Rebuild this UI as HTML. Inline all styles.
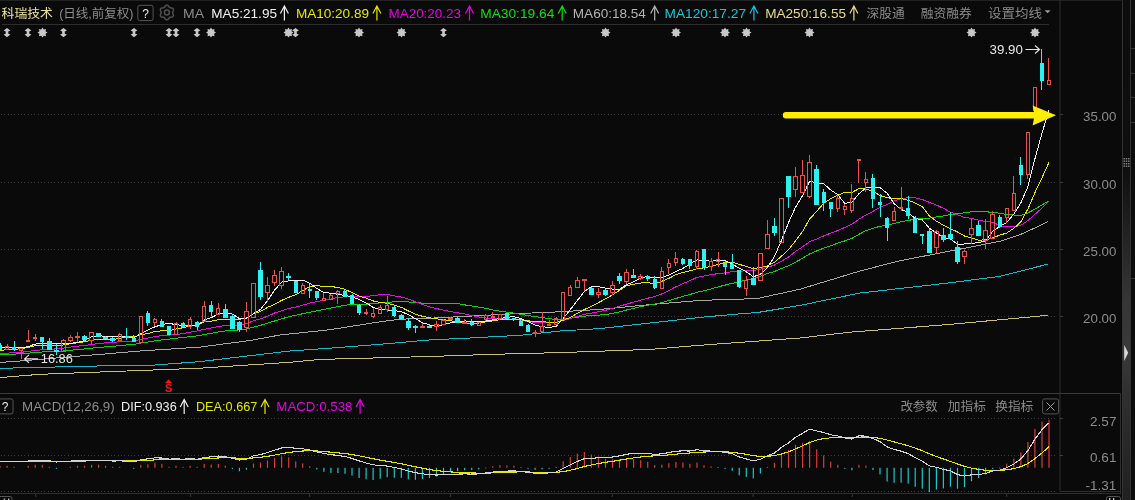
<!DOCTYPE html><html><head><meta charset="utf-8"><style>html,body{margin:0;padding:0;background:#0a0a0a;}body{width:1135px;height:500px;overflow:hidden;position:relative;}</style></head><body><svg width="1135" height="500" viewBox="0 0 1135 500" style="position:absolute;left:0;top:0" font-family="'Liberation Sans','Noto Sans CJK SC',sans-serif">
<rect width="1135" height="500" fill="#0a0a0a"/>
<rect x="0" y="0" width="1121" height="1" fill="#222"/>
<rect x="2" y="24" width="1047" height="1" fill="#2e2e2e"/>
<defs><pattern id="dots" x="0" y="0" width="10" height="1" patternUnits="userSpaceOnUse"><rect x="1" y="0" width="1" height="1" fill="#3c3c3c"/><rect x="4" y="0" width="1" height="1" fill="#3c3c3c"/><rect x="8" y="0" width="1" height="1" fill="#3c3c3c"/></pattern></defs>
<rect x="0" y="114" width="1057" height="1" fill="url(#dots)"/>
<rect x="1059.5" y="114" width="3.6" height="1" fill="#3a3a3a"/>
<rect x="0" y="182" width="1057" height="1" fill="url(#dots)"/>
<rect x="1059.5" y="182" width="3.6" height="1" fill="#3a3a3a"/>
<rect x="0" y="249" width="1057" height="1" fill="url(#dots)"/>
<rect x="1059.5" y="249" width="3.6" height="1" fill="#3a3a3a"/>
<rect x="0" y="316" width="1057" height="1" fill="url(#dots)"/>
<rect x="1059.5" y="316" width="3.6" height="1" fill="#3a3a3a"/>
<rect x="1059.3" y="0" width="1.3" height="491" fill="#262626"/>
<text x="1116.4" y="121.4" fill="#8c8c8c" font-size="13.5" text-anchor="end" textLength="33.3" lengthAdjust="spacingAndGlyphs" >35.00</text>
<text x="1116.4" y="189.4" fill="#8c8c8c" font-size="13.5" text-anchor="end" textLength="33.3" lengthAdjust="spacingAndGlyphs" >30.00</text>
<text x="1116.4" y="256.3" fill="#8c8c8c" font-size="13.5" text-anchor="end" textLength="33.3" lengthAdjust="spacingAndGlyphs" >25.00</text>
<text x="1116.4" y="323.3" fill="#8c8c8c" font-size="13.5" text-anchor="end" textLength="33.3" lengthAdjust="spacingAndGlyphs" >20.00</text>
<polyline points="0.0,377.6 40.0,374.3 140.0,370.5 200.0,368.2 250.0,364.9 290.0,362.3 320.0,359.4 430.0,356.5 490.0,354.4 560.0,352.6 650.0,349.4 705.0,344.9 800.0,338.0 850.0,332.2 950.0,324.4 1048.0,315.3" fill="none" stroke="#c8c07a" stroke-width="1.0" shape-rendering="crispEdges" />
<polyline points="0.0,368.3 110.0,365.7 150.0,365.4 200.0,361.6 250.0,355.7 290.0,351.0 330.0,348.2 380.0,344.3 430.0,339.9 470.0,338.0 520.0,335.3 560.0,331.0 600.0,328.6 650.0,323.0 700.0,317.4 740.0,313.8 757.0,312.6 800.0,305.4 860.0,293.0 900.0,288.5 950.0,282.8 1000.0,276.3 1048.0,264.1" fill="none" stroke="#19b8cc" stroke-width="1.0" shape-rendering="crispEdges" />
<polyline points="0.0,362.4 20.0,361.0 75.0,356.4 100.0,354.4 140.0,351.0 200.0,347.1 250.0,340.5 280.0,335.0 330.0,329.7 380.0,321.8 400.0,319.2 430.0,318.2 470.0,316.1 520.0,313.5 560.0,311.8 600.0,309.4 650.0,304.6 700.0,300.4 757.0,298.6 800.0,289.2 860.0,271.0 900.0,260.7 950.0,251.1 1000.0,241.2 1020.0,234.7 1040.0,225.6 1048.0,221.7" fill="none" stroke="#a8a8a8" stroke-width="1.0" shape-rendering="crispEdges" />
<polyline points="0.0,354.7 7.1,354.3 14.1,354.1 21.2,353.8 28.2,353.2 35.2,352.6 42.3,352.0 49.3,351.8 56.4,351.5 63.4,351.0 70.4,350.3 77.5,349.6 84.5,349.0 91.5,348.2 98.6,347.5 105.6,346.9 112.7,346.3 119.7,345.6 126.8,344.9 133.8,344.4 140.8,343.0 147.9,342.0 154.9,340.8 161.9,339.9 169.0,339.2 176.0,338.2 183.1,337.5 190.1,336.6 197.2,335.9 204.2,334.5 211.2,333.3 218.3,332.0 225.3,330.9 232.3,330.3 239.4,329.9 246.4,329.0 253.5,327.1 260.5,325.3 267.5,323.2 274.6,321.0 281.6,318.8 288.7,316.8 295.7,315.3 302.8,313.7 309.8,312.2 316.8,310.8 323.9,309.4 330.9,308.1 337.9,306.6 345.0,305.1 352.0,304.7 359.1,304.4 366.1,304.1 373.1,303.7 380.2,302.8 387.2,302.2 394.3,301.9 401.3,301.8 408.3,301.9 415.4,302.6 422.4,303.1 429.5,303.7 436.5,303.9 443.5,303.6 450.6,303.3 457.6,303.6 464.7,304.9 471.7,305.9 478.8,307.1 485.8,308.4 492.8,309.9 499.9,311.2 506.9,312.1 513.9,313.2 521.0,314.3 528.0,315.5 535.1,316.6 542.1,317.6 549.1,318.7 556.2,319.5 563.2,319.1 570.3,318.3 577.3,317.2 584.4,316.1 591.4,315.7 598.4,315.2 605.5,314.5 612.5,313.4 619.5,311.9 626.6,310.0 633.6,308.4 640.7,306.7 647.7,305.2 654.8,304.1 661.8,302.5 668.8,300.6 675.9,298.5 682.9,296.4 689.9,294.5 697.0,292.3 704.0,290.7 711.1,288.9 718.1,286.9 725.1,285.1 732.2,283.3 739.2,281.8 746.3,280.0 753.3,278.6 760.4,276.3 767.4,273.5 774.4,271.5 781.5,268.5 788.5,265.7 795.5,262.2 802.6,258.2 809.6,253.9 816.7,250.9 823.7,248.1 830.8,245.7 837.8,243.2 844.8,240.9 851.9,238.3 858.9,234.3 865.9,230.7 873.0,228.3 880.0,226.3 887.1,225.2 894.1,223.5 901.1,221.6 908.2,220.4 915.2,219.2 922.3,218.4 929.3,218.1 936.4,217.0 943.4,216.0 950.4,214.4 957.5,213.8 964.5,212.7 971.5,211.8 978.6,211.9 985.6,211.8 992.7,212.3 999.7,213.3 1006.8,214.4 1013.8,215.0 1020.8,215.3 1027.9,212.9 1034.9,209.1 1042.0,204.9 1049.0,200.9" fill="none" stroke="#10d010" stroke-width="1.0" shape-rendering="crispEdges" />
<polyline points="0.0,353.6 7.1,353.1 14.1,352.7 21.2,352.3 28.2,351.4 35.2,350.5 42.3,349.7 49.3,349.3 56.4,348.9 63.4,348.1 70.4,347.1 77.5,346.2 84.5,345.5 91.5,344.4 98.6,343.6 105.6,342.8 112.7,342.4 119.7,341.8 126.8,341.3 133.8,340.9 140.8,339.3 147.9,338.1 154.9,336.6 161.9,335.5 169.0,335.1 176.0,334.4 183.1,333.7 190.1,332.2 197.2,331.0 204.2,329.3 211.2,328.0 218.3,326.6 225.3,325.5 232.3,325.3 239.4,325.0 246.4,323.6 253.5,320.8 260.5,318.9 267.5,316.3 274.6,313.0 281.6,310.8 288.7,308.5 295.7,307.2 302.8,305.2 309.8,303.0 316.8,301.7 323.9,300.3 330.9,299.1 337.9,297.4 345.0,296.8 352.0,296.5 359.1,296.7 366.1,296.4 373.1,295.7 380.2,294.6 387.2,294.3 394.3,295.9 401.3,297.0 408.3,299.1 415.4,301.7 422.4,304.4 429.5,306.9 436.5,308.5 443.5,310.2 450.6,311.6 457.6,312.8 464.7,314.0 471.7,315.5 478.8,317.0 485.8,318.0 492.8,318.6 499.9,318.7 506.9,319.1 513.9,319.4 521.0,320.2 528.0,321.5 535.1,322.4 542.1,322.8 549.1,322.6 556.2,322.2 563.2,320.5 570.3,318.5 577.3,316.4 584.4,314.3 591.4,313.1 598.4,311.7 605.5,310.3 612.5,308.4 619.5,306.2 626.6,304.1 633.6,302.1 640.7,300.2 647.7,298.2 654.8,296.6 661.8,293.9 668.8,290.5 675.9,286.8 682.9,283.6 689.9,280.7 697.0,277.3 704.0,276.0 711.1,274.7 718.1,273.6 725.1,272.9 732.2,271.6 739.2,271.4 746.3,270.6 753.3,270.6 760.4,269.2 767.4,267.3 774.4,265.1 781.5,261.2 788.5,257.1 795.5,251.5 802.6,246.7 809.6,241.7 816.7,239.0 823.7,235.9 830.8,233.1 837.8,230.5 844.8,227.4 851.9,224.2 858.9,219.2 865.9,214.9 873.0,211.4 880.0,207.3 887.1,204.6 894.1,201.0 901.1,198.7 908.2,197.7 915.2,197.7 922.3,199.5 929.3,202.3 936.4,205.1 943.4,208.3 950.4,212.1 957.5,214.9 964.5,217.4 971.5,218.4 978.6,220.2 985.6,221.4 992.7,222.2 999.7,225.6 1006.8,227.0 1013.8,226.8 1020.8,225.3 1027.9,220.5 1034.9,214.3 1042.0,208.0 1049.0,201.2" fill="none" stroke="#e010e0" stroke-width="1.0" shape-rendering="crispEdges" />
<polyline points="0.0,350.5 7.1,349.7 14.1,349.3 21.2,348.8 28.2,347.4 35.2,345.8 42.3,345.1 49.3,345.3 56.4,345.7 63.4,345.0 70.4,343.8 77.5,342.7 84.5,341.8 91.5,340.1 98.6,339.7 105.6,339.8 112.7,339.7 119.7,338.3 126.8,336.9 133.8,336.9 140.8,334.8 147.9,333.5 154.9,331.5 161.9,330.8 169.0,330.6 176.0,329.1 183.1,327.7 190.1,326.2 197.2,325.2 204.2,321.7 211.2,321.2 218.3,319.8 225.3,319.6 232.3,319.9 239.4,319.3 246.4,318.1 253.5,313.9 260.5,311.5 267.5,307.4 274.6,304.3 281.6,300.4 288.7,297.3 295.7,294.8 302.8,290.5 309.8,286.7 316.8,285.2 323.9,286.8 330.9,286.7 337.9,287.3 345.0,289.4 352.0,292.6 359.1,296.1 366.1,298.1 373.1,300.9 380.2,302.5 387.2,303.3 394.3,305.1 401.3,307.3 408.3,310.9 415.4,314.1 422.4,316.3 429.5,317.8 436.5,318.9 443.5,319.6 450.6,320.7 457.6,322.3 464.7,322.9 471.7,323.6 478.8,323.1 485.8,321.9 492.8,320.9 499.9,319.7 506.9,319.2 513.9,319.1 521.0,319.8 528.0,320.8 535.1,321.8 542.1,321.9 549.1,322.1 556.2,322.4 563.2,320.1 570.3,317.4 577.3,313.5 584.4,309.5 591.4,306.5 598.4,302.6 605.5,298.9 612.5,294.8 619.5,290.4 626.6,285.8 633.6,284.2 640.7,283.0 647.7,282.8 654.8,283.6 661.8,281.3 668.8,278.4 675.9,274.7 682.9,272.5 689.9,270.9 697.0,268.8 704.0,267.8 711.1,266.4 718.1,264.5 725.1,262.3 732.2,262.0 739.2,264.3 746.3,266.5 753.3,268.6 760.4,267.5 767.4,265.8 774.4,262.4 781.5,256.1 788.5,249.8 795.5,240.8 802.6,231.5 809.6,219.0 816.7,211.4 823.7,203.2 830.8,198.7 837.8,195.1 844.8,192.4 851.9,192.4 858.9,188.7 865.9,189.0 873.0,191.3 880.0,195.5 887.1,197.8 894.1,198.7 901.1,198.6 908.2,200.3 915.2,203.0 922.3,206.6 929.3,215.9 936.4,221.1 943.4,225.2 950.4,228.6 957.5,232.0 964.5,236.0 971.5,238.1 978.6,240.1 985.6,239.9 992.7,237.8 999.7,235.2 1006.8,233.0 1013.8,228.4 1020.8,221.9 1027.9,209.0 1034.9,192.7 1042.0,177.8 1049.0,162.3" fill="none" stroke="#e6e600" stroke-width="1.0" shape-rendering="crispEdges" />
<polyline points="0.0,347.4 7.1,347.2 14.1,347.6 21.2,347.9 28.2,346.5 35.2,344.1 42.3,343.1 49.3,343.0 56.4,343.4 63.4,343.4 70.4,343.4 77.5,342.4 84.5,340.5 91.5,336.8 98.6,335.9 105.6,336.1 112.7,337.0 119.7,336.1 126.8,336.9 133.8,337.9 140.8,333.5 147.9,329.9 154.9,326.8 161.9,324.7 169.0,323.3 176.0,324.7 183.1,325.5 190.1,325.5 197.2,325.7 204.2,320.1 211.2,317.7 218.3,314.0 225.3,313.7 232.3,314.0 239.4,318.6 246.4,318.6 253.5,313.7 260.5,309.4 267.5,300.8 274.6,290.1 281.6,282.1 288.7,280.9 295.7,280.2 302.8,280.2 309.8,283.2 316.8,288.4 323.9,292.6 330.9,293.2 337.9,294.4 345.0,295.5 352.0,296.8 359.1,299.5 366.1,302.9 373.1,307.3 380.2,309.6 387.2,309.9 394.3,310.6 401.3,311.7 408.3,314.5 415.4,318.6 422.4,322.7 429.5,324.9 436.5,326.2 443.5,324.7 450.6,322.8 457.6,322.0 464.7,321.0 471.7,321.1 478.8,321.6 485.8,321.1 492.8,319.9 499.9,318.5 506.9,317.3 513.9,316.7 521.0,318.6 528.0,321.6 535.1,325.1 542.1,326.6 549.1,327.5 556.2,326.2 563.2,318.5 570.3,309.6 577.3,300.5 584.4,291.6 591.4,286.7 598.4,286.6 605.5,288.1 612.5,289.1 619.5,289.2 626.6,284.8 633.6,281.7 640.7,278.0 647.7,276.5 654.8,278.0 661.8,277.8 668.8,275.0 675.9,271.5 682.9,268.5 689.9,263.9 697.0,259.8 704.0,260.6 711.1,261.2 718.1,260.5 725.1,260.7 732.2,264.2 739.2,268.0 746.3,271.8 753.3,276.8 760.4,274.3 767.4,267.5 774.4,256.7 781.5,240.3 788.5,222.7 795.5,207.3 802.6,195.5 809.6,181.4 816.7,182.6 823.7,183.7 830.8,190.1 837.8,194.7 844.8,203.4 851.9,202.2 858.9,193.7 865.9,187.9 873.0,187.9 880.0,187.5 887.1,193.3 894.1,203.7 901.1,209.3 908.2,212.7 915.2,218.4 922.3,219.9 929.3,228.1 936.4,232.9 943.4,237.7 950.4,238.9 957.5,244.2 964.5,244.0 971.5,243.4 978.6,242.6 985.6,240.9 992.7,231.4 999.7,226.4 1006.8,222.5 1013.8,214.1 1020.8,202.9 1027.9,186.6 1034.9,158.9 1042.0,133.1 1049.0,110.5" fill="none" stroke="#f0f0f0" stroke-width="1.0" shape-rendering="crispEdges" />
<rect x="0" y="343" width="1" height="7" fill="#2ef0f0"/>
<rect x="-2" y="345" width="4" height="5" fill="#2ef0f0"/>
<rect x="7" y="344" width="1" height="2" fill="#e8524a"/>
<rect x="5.5" y="346.5" width="3" height="3" fill="none" stroke="#e8524a" stroke-width="1"/>
<rect x="14" y="341" width="1" height="10" fill="#2ef0f0"/>
<rect x="12" y="347" width="4" height="3" fill="#2ef0f0"/>
<rect x="21" y="351" width="1" height="8" fill="#e8524a"/>
<rect x="19.5" y="348.5" width="3" height="2" fill="none" stroke="#e8524a" stroke-width="1"/>
<rect x="28" y="330" width="1" height="10" fill="#e8524a"/>
<rect x="26.5" y="340.5" width="3" height="1" fill="none" stroke="#e8524a" stroke-width="1"/>
<rect x="35" y="334" width="1" height="3" fill="#e8524a"/>
<rect x="35" y="339" width="1" height="2" fill="#e8524a"/>
<rect x="33.5" y="337.5" width="3" height="1" fill="none" stroke="#e8524a" stroke-width="1"/>
<rect x="42" y="337" width="1" height="12" fill="#2ef0f0"/>
<rect x="40" y="337" width="4" height="5" fill="#2ef0f0"/>
<rect x="49" y="338" width="1" height="11" fill="#2ef0f0"/>
<rect x="47" y="341" width="5" height="9" fill="#2ef0f0"/>
<rect x="56" y="344" width="1" height="11" fill="#2ef0f0"/>
<rect x="54" y="350" width="5" height="2" fill="#2ef0f0"/>
<rect x="63" y="339" width="1" height="1" fill="#e8524a"/>
<rect x="61.5" y="340.5" width="4" height="11" fill="none" stroke="#e8524a" stroke-width="1"/>
<rect x="70" y="335" width="1" height="2" fill="#e8524a"/>
<rect x="70" y="341" width="1" height="1" fill="#e8524a"/>
<rect x="68.5" y="337.5" width="4" height="3" fill="none" stroke="#e8524a" stroke-width="1"/>
<rect x="77" y="332" width="1" height="4" fill="#e8524a"/>
<rect x="77" y="338" width="1" height="4" fill="#e8524a"/>
<rect x="75.5" y="336.5" width="4" height="1" fill="none" stroke="#e8524a" stroke-width="1"/>
<rect x="84" y="335" width="1" height="6" fill="#2ef0f0"/>
<rect x="82" y="336" width="5" height="4" fill="#2ef0f0"/>
<rect x="91" y="341" width="1" height="3" fill="#e8524a"/>
<rect x="89.5" y="332.5" width="4" height="8" fill="none" stroke="#e8524a" stroke-width="1"/>
<rect x="98" y="333" width="1" height="3" fill="#2ef0f0"/>
<rect x="96" y="333" width="5" height="4" fill="#2ef0f0"/>
<rect x="105" y="336" width="1" height="3" fill="#2ef0f0"/>
<rect x="103" y="337" width="5" height="2" fill="#2ef0f0"/>
<rect x="112" y="337" width="1" height="5" fill="#2ef0f0"/>
<rect x="110" y="338" width="5" height="3" fill="#2ef0f0"/>
<rect x="119" y="333" width="1" height="1" fill="#e8524a"/>
<rect x="118.5" y="334.5" width="3" height="6" fill="none" stroke="#e8524a" stroke-width="1"/>
<rect x="126" y="328" width="1" height="12" fill="#2ef0f0"/>
<rect x="125" y="336" width="4" height="2" fill="#2ef0f0"/>
<rect x="133" y="335" width="1" height="6" fill="#2ef0f0"/>
<rect x="132" y="338" width="4" height="4" fill="#2ef0f0"/>
<rect x="139.5" y="316.5" width="3" height="26" fill="none" stroke="#e8524a" stroke-width="1"/>
<rect x="147" y="311" width="1" height="15" fill="#2ef0f0"/>
<rect x="146" y="313" width="4" height="10" fill="#2ef0f0"/>
<rect x="154" y="318" width="1" height="1" fill="#e8524a"/>
<rect x="154" y="323" width="1" height="3" fill="#e8524a"/>
<rect x="153.5" y="319.5" width="3" height="3" fill="none" stroke="#e8524a" stroke-width="1"/>
<rect x="161" y="319" width="1" height="7" fill="#2ef0f0"/>
<rect x="160" y="321" width="4" height="6" fill="#2ef0f0"/>
<rect x="168" y="326" width="1" height="8" fill="#2ef0f0"/>
<rect x="167" y="326" width="4" height="9" fill="#2ef0f0"/>
<rect x="176" y="322" width="1" height="1" fill="#e8524a"/>
<rect x="174.5" y="323.5" width="3" height="11" fill="none" stroke="#e8524a" stroke-width="1"/>
<rect x="183" y="322" width="1" height="4" fill="#2ef0f0"/>
<rect x="181" y="323" width="4" height="4" fill="#2ef0f0"/>
<rect x="190" y="317" width="1" height="2" fill="#e8524a"/>
<rect x="190" y="327" width="1" height="2" fill="#e8524a"/>
<rect x="188.5" y="319.5" width="3" height="7" fill="none" stroke="#e8524a" stroke-width="1"/>
<rect x="197" y="321" width="1" height="9" fill="#2ef0f0"/>
<rect x="195" y="322" width="4" height="5" fill="#2ef0f0"/>
<rect x="204" y="301" width="1" height="5" fill="#e8524a"/>
<rect x="202.5" y="306.5" width="3" height="15" fill="none" stroke="#e8524a" stroke-width="1"/>
<rect x="211" y="301" width="1" height="15" fill="#2ef0f0"/>
<rect x="209" y="305" width="4" height="7" fill="#2ef0f0"/>
<rect x="218" y="303" width="1" height="5" fill="#e8524a"/>
<rect x="216.5" y="308.5" width="3" height="6" fill="none" stroke="#e8524a" stroke-width="1"/>
<rect x="225" y="304" width="1" height="13" fill="#2ef0f0"/>
<rect x="223" y="309" width="5" height="9" fill="#2ef0f0"/>
<rect x="232" y="314" width="1" height="14" fill="#2ef0f0"/>
<rect x="230" y="316" width="5" height="13" fill="#2ef0f0"/>
<rect x="239" y="321" width="1" height="11" fill="#2ef0f0"/>
<rect x="237" y="322" width="5" height="8" fill="#2ef0f0"/>
<rect x="246" y="302" width="1" height="9" fill="#e8524a"/>
<rect x="246" y="328" width="1" height="4" fill="#e8524a"/>
<rect x="244.5" y="311.5" width="4" height="16" fill="none" stroke="#e8524a" stroke-width="1"/>
<rect x="251.5" y="283.5" width="4" height="34" fill="none" stroke="#e8524a" stroke-width="1"/>
<rect x="260" y="262" width="1" height="38" fill="#2ef0f0"/>
<rect x="258" y="270" width="5" height="27" fill="#2ef0f0"/>
<rect x="267" y="277" width="1" height="8" fill="#e8524a"/>
<rect x="267" y="293" width="1" height="9" fill="#e8524a"/>
<rect x="265.5" y="285.5" width="4" height="7" fill="none" stroke="#e8524a" stroke-width="1"/>
<rect x="274" y="270" width="1" height="5" fill="#e8524a"/>
<rect x="274" y="283" width="1" height="3" fill="#e8524a"/>
<rect x="272.5" y="275.5" width="4" height="7" fill="none" stroke="#e8524a" stroke-width="1"/>
<rect x="281" y="267" width="1" height="4" fill="#e8524a"/>
<rect x="281" y="286" width="1" height="3" fill="#e8524a"/>
<rect x="279.5" y="271.5" width="4" height="14" fill="none" stroke="#e8524a" stroke-width="1"/>
<rect x="288" y="273" width="1" height="7" fill="#2ef0f0"/>
<rect x="286" y="276" width="5" height="2" fill="#2ef0f0"/>
<rect x="295" y="281" width="1" height="11" fill="#2ef0f0"/>
<rect x="294" y="281" width="4" height="12" fill="#2ef0f0"/>
<rect x="302" y="283" width="1" height="2" fill="#e8524a"/>
<rect x="301.5" y="285.5" width="3" height="8" fill="none" stroke="#e8524a" stroke-width="1"/>
<rect x="309" y="284" width="1" height="14" fill="#2ef0f0"/>
<rect x="308" y="289" width="4" height="2" fill="#2ef0f0"/>
<rect x="316" y="291" width="1" height="9" fill="#2ef0f0"/>
<rect x="315" y="291" width="4" height="7" fill="#2ef0f0"/>
<rect x="323" y="293" width="1" height="5" fill="#e8524a"/>
<rect x="322.5" y="298.5" width="3" height="2" fill="none" stroke="#e8524a" stroke-width="1"/>
<rect x="330" y="294" width="1" height="1" fill="#e8524a"/>
<rect x="329.5" y="295.5" width="3" height="4" fill="none" stroke="#e8524a" stroke-width="1"/>
<rect x="337" y="290" width="1" height="1" fill="#e8524a"/>
<rect x="337" y="294" width="1" height="10" fill="#e8524a"/>
<rect x="336.5" y="291.5" width="3" height="2" fill="none" stroke="#e8524a" stroke-width="1"/>
<rect x="344" y="290" width="1" height="6" fill="#2ef0f0"/>
<rect x="343" y="291" width="4" height="6" fill="#2ef0f0"/>
<rect x="352" y="294" width="1" height="9" fill="#2ef0f0"/>
<rect x="350" y="295" width="4" height="9" fill="#2ef0f0"/>
<rect x="359" y="304" width="1" height="11" fill="#2ef0f0"/>
<rect x="357" y="305" width="4" height="8" fill="#2ef0f0"/>
<rect x="366" y="309" width="1" height="3" fill="#e8524a"/>
<rect x="366" y="314" width="1" height="1" fill="#e8524a"/>
<rect x="364.5" y="312.5" width="3" height="1" fill="none" stroke="#e8524a" stroke-width="1"/>
<rect x="373" y="308" width="1" height="5" fill="#e8524a"/>
<rect x="373" y="317" width="1" height="1" fill="#e8524a"/>
<rect x="371.5" y="313.5" width="3" height="3" fill="none" stroke="#e8524a" stroke-width="1"/>
<rect x="380" y="305" width="1" height="2" fill="#e8524a"/>
<rect x="378.5" y="307.5" width="3" height="6" fill="none" stroke="#e8524a" stroke-width="1"/>
<rect x="387" y="296" width="1" height="9" fill="#e8524a"/>
<rect x="387" y="310" width="1" height="2" fill="#e8524a"/>
<rect x="385.5" y="305.5" width="3" height="4" fill="none" stroke="#e8524a" stroke-width="1"/>
<rect x="394" y="306" width="1" height="11" fill="#2ef0f0"/>
<rect x="392" y="307" width="4" height="9" fill="#2ef0f0"/>
<rect x="401" y="314" width="1" height="4" fill="#2ef0f0"/>
<rect x="399" y="315" width="5" height="4" fill="#2ef0f0"/>
<rect x="408" y="318" width="1" height="12" fill="#2ef0f0"/>
<rect x="406" y="321" width="5" height="7" fill="#2ef0f0"/>
<rect x="415" y="325" width="1" height="8" fill="#2ef0f0"/>
<rect x="413" y="326" width="5" height="2" fill="#2ef0f0"/>
<rect x="422" y="323" width="1" height="3" fill="#e8524a"/>
<rect x="420.5" y="326.5" width="4" height="1" fill="none" stroke="#e8524a" stroke-width="1"/>
<rect x="429" y="324" width="1" height="3" fill="#2ef0f0"/>
<rect x="427" y="326" width="5" height="2" fill="#2ef0f0"/>
<rect x="436" y="321" width="1" height="3" fill="#e8524a"/>
<rect x="436" y="327" width="1" height="4" fill="#e8524a"/>
<rect x="434.5" y="324.5" width="4" height="2" fill="none" stroke="#e8524a" stroke-width="1"/>
<rect x="443" y="319" width="1" height="1" fill="#e8524a"/>
<rect x="441.5" y="320.5" width="4" height="4" fill="none" stroke="#e8524a" stroke-width="1"/>
<rect x="450" y="317" width="1" height="1" fill="#e8524a"/>
<rect x="448.5" y="318.5" width="4" height="1" fill="none" stroke="#e8524a" stroke-width="1"/>
<rect x="457" y="317" width="1" height="5" fill="#2ef0f0"/>
<rect x="455" y="318" width="5" height="5" fill="#2ef0f0"/>
<rect x="464" y="319" width="1" height="3" fill="#e8524a"/>
<rect x="462.5" y="322.5" width="4" height="1" fill="none" stroke="#e8524a" stroke-width="1"/>
<rect x="471" y="319" width="1" height="7" fill="#2ef0f0"/>
<rect x="470" y="322" width="4" height="3" fill="#2ef0f0"/>
<rect x="477.5" y="322.5" width="3" height="3" fill="none" stroke="#e8524a" stroke-width="1"/>
<rect x="485" y="314" width="1" height="1" fill="#e8524a"/>
<rect x="485" y="320" width="1" height="1" fill="#e8524a"/>
<rect x="484.5" y="315.5" width="3" height="4" fill="none" stroke="#e8524a" stroke-width="1"/>
<rect x="492" y="312" width="1" height="4" fill="#e8524a"/>
<rect x="491.5" y="316.5" width="3" height="1" fill="none" stroke="#e8524a" stroke-width="1"/>
<rect x="499" y="319" width="1" height="1" fill="#e8524a"/>
<rect x="498.5" y="314.5" width="3" height="4" fill="none" stroke="#e8524a" stroke-width="1"/>
<rect x="506" y="313" width="1" height="5" fill="#2ef0f0"/>
<rect x="505" y="313" width="4" height="6" fill="#2ef0f0"/>
<rect x="513" y="318" width="1" height="3" fill="#2ef0f0"/>
<rect x="512" y="318" width="4" height="2" fill="#2ef0f0"/>
<rect x="520" y="320" width="1" height="5" fill="#2ef0f0"/>
<rect x="519" y="321" width="4" height="5" fill="#2ef0f0"/>
<rect x="528" y="324" width="1" height="8" fill="#2ef0f0"/>
<rect x="526" y="325" width="4" height="7" fill="#2ef0f0"/>
<rect x="535" y="330" width="1" height="2" fill="#e8524a"/>
<rect x="535" y="333" width="1" height="4" fill="#e8524a"/>
<rect x="533.5" y="332.5" width="3" height="1" fill="none" stroke="#e8524a" stroke-width="1"/>
<rect x="542" y="312" width="1" height="14" fill="#e8524a"/>
<rect x="540.5" y="326.5" width="3" height="5" fill="none" stroke="#e8524a" stroke-width="1"/>
<rect x="549" y="320" width="1" height="4" fill="#e8524a"/>
<rect x="547.5" y="324.5" width="3" height="1" fill="none" stroke="#e8524a" stroke-width="1"/>
<rect x="556" y="317" width="1" height="1" fill="#e8524a"/>
<rect x="554.5" y="318.5" width="3" height="6" fill="none" stroke="#e8524a" stroke-width="1"/>
<rect x="561.5" y="292.5" width="3" height="27" fill="none" stroke="#e8524a" stroke-width="1"/>
<rect x="570" y="285" width="1" height="2" fill="#e8524a"/>
<rect x="568.5" y="287.5" width="3" height="8" fill="none" stroke="#e8524a" stroke-width="1"/>
<rect x="577" y="277" width="1" height="3" fill="#e8524a"/>
<rect x="575.5" y="280.5" width="4" height="7" fill="none" stroke="#e8524a" stroke-width="1"/>
<rect x="584" y="281" width="1" height="10" fill="#e8524a"/>
<rect x="582.5" y="279.5" width="4" height="1" fill="none" stroke="#e8524a" stroke-width="1"/>
<rect x="591" y="287" width="1" height="7" fill="#2ef0f0"/>
<rect x="589" y="288" width="5" height="7" fill="#2ef0f0"/>
<rect x="598" y="288" width="1" height="4" fill="#e8524a"/>
<rect x="598" y="295" width="1" height="3" fill="#e8524a"/>
<rect x="596.5" y="292.5" width="4" height="2" fill="none" stroke="#e8524a" stroke-width="1"/>
<rect x="605" y="289" width="1" height="7" fill="#2ef0f0"/>
<rect x="603" y="290" width="5" height="5" fill="#2ef0f0"/>
<rect x="612" y="281" width="1" height="4" fill="#e8524a"/>
<rect x="612" y="293" width="1" height="2" fill="#e8524a"/>
<rect x="610.5" y="285.5" width="4" height="7" fill="none" stroke="#e8524a" stroke-width="1"/>
<rect x="619" y="273" width="1" height="11" fill="#2ef0f0"/>
<rect x="617" y="276" width="5" height="5" fill="#2ef0f0"/>
<rect x="626" y="269" width="1" height="3" fill="#e8524a"/>
<rect x="626" y="282" width="1" height="2" fill="#e8524a"/>
<rect x="624.5" y="272.5" width="4" height="9" fill="none" stroke="#e8524a" stroke-width="1"/>
<rect x="633" y="269" width="1" height="8" fill="#2ef0f0"/>
<rect x="631" y="275" width="5" height="3" fill="#2ef0f0"/>
<rect x="640" y="274" width="1" height="2" fill="#e8524a"/>
<rect x="640" y="279" width="1" height="1" fill="#e8524a"/>
<rect x="638.5" y="276.5" width="4" height="2" fill="none" stroke="#e8524a" stroke-width="1"/>
<rect x="647" y="275" width="1" height="6" fill="#2ef0f0"/>
<rect x="646" y="276" width="4" height="3" fill="#2ef0f0"/>
<rect x="654" y="276" width="1" height="13" fill="#2ef0f0"/>
<rect x="653" y="279" width="4" height="9" fill="#2ef0f0"/>
<rect x="661" y="267" width="1" height="4" fill="#e8524a"/>
<rect x="660.5" y="271.5" width="3" height="17" fill="none" stroke="#e8524a" stroke-width="1"/>
<rect x="668" y="259" width="1" height="4" fill="#e8524a"/>
<rect x="668" y="268" width="1" height="6" fill="#e8524a"/>
<rect x="667.5" y="263.5" width="3" height="4" fill="none" stroke="#e8524a" stroke-width="1"/>
<rect x="675" y="252" width="1" height="6" fill="#e8524a"/>
<rect x="675" y="263" width="1" height="3" fill="#e8524a"/>
<rect x="674.5" y="258.5" width="3" height="4" fill="none" stroke="#e8524a" stroke-width="1"/>
<rect x="682" y="258" width="1" height="7" fill="#2ef0f0"/>
<rect x="681" y="259" width="4" height="5" fill="#2ef0f0"/>
<rect x="689" y="259" width="1" height="10" fill="#2ef0f0"/>
<rect x="688" y="259" width="4" height="7" fill="#2ef0f0"/>
<rect x="696" y="250" width="1" height="1" fill="#e8524a"/>
<rect x="696" y="267" width="1" height="2" fill="#e8524a"/>
<rect x="695.5" y="251.5" width="3" height="15" fill="none" stroke="#e8524a" stroke-width="1"/>
<rect x="704" y="249" width="1" height="21" fill="#2ef0f0"/>
<rect x="702" y="249" width="4" height="19" fill="#2ef0f0"/>
<rect x="711" y="258" width="1" height="3" fill="#e8524a"/>
<rect x="711" y="267" width="1" height="4" fill="#e8524a"/>
<rect x="709.5" y="261.5" width="3" height="5" fill="none" stroke="#e8524a" stroke-width="1"/>
<rect x="718" y="252" width="1" height="7" fill="#e8524a"/>
<rect x="718" y="262" width="1" height="5" fill="#e8524a"/>
<rect x="716.5" y="259.5" width="3" height="2" fill="none" stroke="#e8524a" stroke-width="1"/>
<rect x="725" y="261" width="1" height="14" fill="#2ef0f0"/>
<rect x="723" y="263" width="4" height="4" fill="#2ef0f0"/>
<rect x="732" y="254" width="1" height="14" fill="#2ef0f0"/>
<rect x="730" y="264" width="4" height="5" fill="#2ef0f0"/>
<rect x="739" y="270" width="1" height="18" fill="#2ef0f0"/>
<rect x="737" y="270" width="4" height="17" fill="#2ef0f0"/>
<rect x="746" y="276" width="1" height="4" fill="#e8524a"/>
<rect x="746" y="289" width="1" height="7" fill="#e8524a"/>
<rect x="744.5" y="280.5" width="3" height="8" fill="none" stroke="#e8524a" stroke-width="1"/>
<rect x="753" y="267" width="1" height="17" fill="#2ef0f0"/>
<rect x="751" y="278" width="5" height="7" fill="#2ef0f0"/>
<rect x="758.5" y="253.5" width="4" height="27" fill="none" stroke="#e8524a" stroke-width="1"/>
<rect x="767" y="220" width="1" height="14" fill="#e8524a"/>
<rect x="765.5" y="234.5" width="4" height="14" fill="none" stroke="#e8524a" stroke-width="1"/>
<rect x="774" y="218" width="1" height="18" fill="#2ef0f0"/>
<rect x="772" y="226" width="5" height="7" fill="#2ef0f0"/>
<rect x="779.5" y="198.5" width="4" height="44" fill="none" stroke="#e8524a" stroke-width="1"/>
<rect x="788" y="176" width="1" height="32" fill="#2ef0f0"/>
<rect x="786" y="176" width="5" height="21" fill="#2ef0f0"/>
<rect x="795" y="167" width="1" height="9" fill="#e8524a"/>
<rect x="795" y="190" width="1" height="7" fill="#e8524a"/>
<rect x="793.5" y="176.5" width="4" height="13" fill="none" stroke="#e8524a" stroke-width="1"/>
<rect x="802" y="160" width="1" height="15" fill="#e8524a"/>
<rect x="800.5" y="175.5" width="4" height="17" fill="none" stroke="#e8524a" stroke-width="1"/>
<rect x="809" y="155" width="1" height="7" fill="#e8524a"/>
<rect x="809" y="197" width="1" height="1" fill="#e8524a"/>
<rect x="807.5" y="162.5" width="4" height="34" fill="none" stroke="#e8524a" stroke-width="1"/>
<rect x="816" y="165" width="1" height="39" fill="#2ef0f0"/>
<rect x="814" y="169" width="5" height="36" fill="#2ef0f0"/>
<rect x="823" y="189" width="1" height="22" fill="#2ef0f0"/>
<rect x="822" y="192" width="4" height="11" fill="#2ef0f0"/>
<rect x="830" y="202" width="1" height="15" fill="#2ef0f0"/>
<rect x="829" y="202" width="4" height="7" fill="#2ef0f0"/>
<rect x="837" y="195" width="1" height="3" fill="#e8524a"/>
<rect x="837" y="209" width="1" height="3" fill="#e8524a"/>
<rect x="836.5" y="198.5" width="3" height="10" fill="none" stroke="#e8524a" stroke-width="1"/>
<rect x="844" y="204" width="1" height="2" fill="#e8524a"/>
<rect x="844" y="210" width="1" height="5" fill="#e8524a"/>
<rect x="843.5" y="206.5" width="3" height="3" fill="none" stroke="#e8524a" stroke-width="1"/>
<rect x="851" y="184" width="1" height="14" fill="#e8524a"/>
<rect x="851" y="211" width="1" height="2" fill="#e8524a"/>
<rect x="850.5" y="198.5" width="3" height="12" fill="none" stroke="#e8524a" stroke-width="1"/>
<rect x="858" y="161" width="1" height="22" fill="#e8524a"/>
<rect x="857.5" y="159.5" width="3" height="1" fill="none" stroke="#e8524a" stroke-width="1"/>
<rect x="865" y="172" width="1" height="7" fill="#e8524a"/>
<rect x="865" y="183" width="1" height="9" fill="#e8524a"/>
<rect x="864.5" y="179.5" width="3" height="3" fill="none" stroke="#e8524a" stroke-width="1"/>
<rect x="872" y="174" width="1" height="34" fill="#2ef0f0"/>
<rect x="871" y="178" width="4" height="21" fill="#2ef0f0"/>
<rect x="880" y="194" width="1" height="23" fill="#2ef0f0"/>
<rect x="878" y="202" width="4" height="3" fill="#2ef0f0"/>
<rect x="887" y="217" width="1" height="24" fill="#2ef0f0"/>
<rect x="885" y="218" width="4" height="10" fill="#2ef0f0"/>
<rect x="894" y="207" width="1" height="4" fill="#e8524a"/>
<rect x="892.5" y="211.5" width="3" height="9" fill="none" stroke="#e8524a" stroke-width="1"/>
<rect x="901" y="187" width="1" height="20" fill="#e8524a"/>
<rect x="901" y="209" width="1" height="2" fill="#e8524a"/>
<rect x="899.5" y="207.5" width="3" height="1" fill="none" stroke="#e8524a" stroke-width="1"/>
<rect x="908" y="196" width="1" height="23" fill="#2ef0f0"/>
<rect x="906" y="208" width="4" height="8" fill="#2ef0f0"/>
<rect x="915" y="216" width="1" height="16" fill="#2ef0f0"/>
<rect x="913" y="218" width="4" height="15" fill="#2ef0f0"/>
<rect x="922" y="234" width="1" height="10" fill="#2ef0f0"/>
<rect x="920" y="234" width="4" height="2" fill="#2ef0f0"/>
<rect x="929" y="229" width="1" height="24" fill="#2ef0f0"/>
<rect x="927" y="231" width="5" height="22" fill="#2ef0f0"/>
<rect x="936" y="230" width="1" height="1" fill="#e8524a"/>
<rect x="936" y="248" width="1" height="5" fill="#e8524a"/>
<rect x="934.5" y="231.5" width="4" height="16" fill="none" stroke="#e8524a" stroke-width="1"/>
<rect x="943" y="228" width="1" height="14" fill="#2ef0f0"/>
<rect x="941" y="235" width="5" height="5" fill="#2ef0f0"/>
<rect x="950" y="212" width="1" height="26" fill="#2ef0f0"/>
<rect x="948" y="234" width="5" height="5" fill="#2ef0f0"/>
<rect x="957" y="241" width="1" height="23" fill="#2ef0f0"/>
<rect x="955" y="247" width="5" height="15" fill="#2ef0f0"/>
<rect x="964" y="250" width="1" height="1" fill="#e8524a"/>
<rect x="964" y="257" width="1" height="7" fill="#e8524a"/>
<rect x="962.5" y="251.5" width="4" height="5" fill="none" stroke="#e8524a" stroke-width="1"/>
<rect x="971" y="219" width="1" height="9" fill="#e8524a"/>
<rect x="971" y="235" width="1" height="9" fill="#e8524a"/>
<rect x="969.5" y="228.5" width="4" height="6" fill="none" stroke="#e8524a" stroke-width="1"/>
<rect x="978" y="221" width="1" height="15" fill="#2ef0f0"/>
<rect x="976" y="225" width="5" height="11" fill="#2ef0f0"/>
<rect x="985" y="219" width="1" height="11" fill="#e8524a"/>
<rect x="985" y="241" width="1" height="8" fill="#e8524a"/>
<rect x="983.5" y="230.5" width="4" height="10" fill="none" stroke="#e8524a" stroke-width="1"/>
<rect x="992" y="211" width="1" height="3" fill="#e8524a"/>
<rect x="990.5" y="214.5" width="4" height="24" fill="none" stroke="#e8524a" stroke-width="1"/>
<rect x="999" y="215" width="1" height="13" fill="#2ef0f0"/>
<rect x="998" y="217" width="4" height="10" fill="#2ef0f0"/>
<rect x="1006" y="218" width="1" height="5" fill="#e8524a"/>
<rect x="1005.5" y="208.5" width="3" height="9" fill="none" stroke="#e8524a" stroke-width="1"/>
<rect x="1013" y="176" width="1" height="17" fill="#e8524a"/>
<rect x="1012.5" y="193.5" width="3" height="17" fill="none" stroke="#e8524a" stroke-width="1"/>
<rect x="1020" y="157" width="1" height="28" fill="#2ef0f0"/>
<rect x="1019" y="165" width="4" height="10" fill="#2ef0f0"/>
<rect x="1027" y="175" width="1" height="4" fill="#e8524a"/>
<rect x="1026.5" y="132.5" width="3" height="42" fill="none" stroke="#e8524a" stroke-width="1"/>
<rect x="1033.5" y="87.5" width="3" height="23" fill="none" stroke="#e8524a" stroke-width="1"/>
<rect x="1041" y="49" width="1" height="41" fill="#2ef0f0"/>
<rect x="1040" y="63" width="4" height="18" fill="#2ef0f0"/>
<rect x="1048" y="58" width="1" height="22" fill="#e8524a"/>
<rect x="1047.5" y="80.5" width="3" height="4" fill="none" stroke="#e8524a" stroke-width="1"/>
<path d="M786,112 L1034,112 L1032.6,105.4 L1056,115.2 L1032.6,125.4 L1034,118.4 L786,118.4 A3.2,3.2 0 0 1 786,112 Z" fill="#ffee00"/>
<text x="989.6" y="53.7" fill="#e6e6e6" font-size="13.5" text-anchor="start" textLength="33.3" lengthAdjust="spacingAndGlyphs" >39.90</text>
<path d="M1025.5,49.5 H1039.5 M1035,45.5 L1039.5,49.5 L1035,53.5" stroke="#e6e6e6" stroke-width="1.1" fill="none"/>
<text x="40.8" y="363.0" fill="#e6e6e6" font-size="13.5" text-anchor="start" textLength="32.0" lengthAdjust="spacingAndGlyphs" >16.86</text>
<path d="M24.5,358.9 H38 M29,354.9 L24.5,358.9 L29,362.9" stroke="#e6e6e6" stroke-width="1.1" fill="none"/>
<path d="M165,383 L168.6,379.3 L172.2,383 Z" fill="#ff1010"/>
<text x="168.6" y="392.2" fill="#ff1010" font-size="11" text-anchor="middle" font-weight="bold">S</text>
<text x="1.6" y="18.0" fill="#ece4a0" font-size="12.2" text-anchor="start" textLength="51.3" lengthAdjust="spacingAndGlyphs" >科瑞技术</text>
<text x="59.2" y="18.0" fill="#8c8c8c" font-size="12.2" text-anchor="start" textLength="74.3" lengthAdjust="spacingAndGlyphs" >(日线,前复权)</text>
<rect x="137.8" y="5.3" width="15.3" height="15.3" rx="2" fill="none" stroke="#555" stroke-width="1"/>
<text x="145.5" y="17.6" fill="#e8e8e8" font-size="12" text-anchor="middle" >?</text>
<path d="M172.60,12.50 L172.69,13.01 L172.91,13.56 L173.18,14.18 L173.38,14.86 L173.42,15.54 L173.22,16.15 L172.79,16.63 L172.19,16.94 L171.50,17.10 L170.82,17.17 L170.23,17.26 L169.75,17.44 L169.35,17.76 L168.99,18.23 L168.58,18.78 L168.10,19.30 L167.53,19.67 L166.90,19.80 L166.27,19.67 L165.70,19.30 L165.22,18.78 L164.81,18.23 L164.45,17.76 L164.05,17.44 L163.57,17.26 L162.98,17.17 L162.30,17.10 L161.61,16.94 L161.01,16.63 L160.58,16.15 L160.38,15.54 L160.42,14.86 L160.62,14.18 L160.89,13.56 L161.11,13.01 L161.20,12.50 L161.11,11.99 L160.89,11.44 L160.62,10.82 L160.42,10.14 L160.38,9.46 L160.58,8.85 L161.01,8.37 L161.61,8.06 L162.30,7.90 L162.98,7.83 L163.57,7.74 L164.05,7.56 L164.45,7.24 L164.81,6.77 L165.22,6.22 L165.70,5.70 L166.27,5.33 L166.90,5.20 L167.53,5.33 L168.10,5.70 L168.58,6.22 L168.99,6.77 L169.35,7.24 L169.75,7.56 L170.23,7.74 L170.82,7.83 L171.50,7.90 L172.19,8.06 L172.79,8.37 L173.22,8.85 L173.42,9.46 L173.38,10.14 L173.18,10.82 L172.91,11.44 L172.69,11.99 Z" fill="none" stroke="#505050" stroke-width="1.5" stroke-linejoin="round"/><circle cx="166.9" cy="12.5" r="2.5" fill="none" stroke="#505050" stroke-width="1.5"/>
<text x="183.0" y="17.9" fill="#8c8c8c" font-size="13.5" text-anchor="start" textLength="21.0" lengthAdjust="spacingAndGlyphs" >MA</text>
<text x="211.3" y="17.9" fill="#f0f0f0" font-size="13.5" text-anchor="start" textLength="65.7" lengthAdjust="spacingAndGlyphs" >MA5:21.95</text>
<path d="M284.4,20.5 V6.5 M280.4,13.5 L284.4,6.0 L288.4,13.5" stroke="#f0f0f0" stroke-width="1.2" fill="none"/>
<text x="295.9" y="17.9" fill="#e6e600" font-size="13.5" text-anchor="start" textLength="73.1" lengthAdjust="spacingAndGlyphs" >MA10:20.89</text>
<path d="M376.9,20.5 V6.5 M372.9,13.5 L376.9,6.0 L380.9,13.5" stroke="#e6e600" stroke-width="1.2" fill="none"/>
<text x="388.5" y="17.9" fill="#e600e6" font-size="13.5" text-anchor="start" textLength="72.5" lengthAdjust="spacingAndGlyphs" >MA20:20.23</text>
<path d="M469.5,20.5 V6.5 M465.5,13.5 L469.5,6.0 L473.5,13.5" stroke="#e600e6" stroke-width="1.2" fill="none"/>
<text x="480.2" y="17.9" fill="#10dd10" font-size="13.5" text-anchor="start" textLength="74.1" lengthAdjust="spacingAndGlyphs" >MA30:19.64</text>
<path d="M562.2,20.5 V6.5 M558.2,13.5 L562.2,6.0 L566.2,13.5" stroke="#10dd10" stroke-width="1.2" fill="none"/>
<text x="572.8" y="17.9" fill="#b4b4b4" font-size="13.5" text-anchor="start" textLength="73.1" lengthAdjust="spacingAndGlyphs" >MA60:18.54</text>
<path d="M654.7,20.5 V6.5 M650.7,13.5 L654.7,6.0 L658.7,13.5" stroke="#b4b4b4" stroke-width="1.2" fill="none"/>
<text x="664.6" y="17.9" fill="#19c4dc" font-size="13.5" text-anchor="start" textLength="81.4" lengthAdjust="spacingAndGlyphs" >MA120:17.27</text>
<path d="M753.9,20.5 V6.5 M749.9,13.5 L753.9,6.0 L757.9,13.5" stroke="#19c4dc" stroke-width="1.2" fill="none"/>
<text x="765.2" y="17.9" fill="#e6dc8c" font-size="13.5" text-anchor="start" textLength="80.8" lengthAdjust="spacingAndGlyphs" >MA250:16.55</text>
<path d="M853.9,20.5 V6.5 M849.9,13.5 L853.9,6.0 L857.9,13.5" stroke="#e6dc8c" stroke-width="1.2" fill="none"/>
<text x="866.5" y="18.0" fill="#8c8c8c" font-size="12.2" text-anchor="start" textLength="38.1" lengthAdjust="spacingAndGlyphs" >深股通</text>
<text x="920.7" y="18.0" fill="#8c8c8c" font-size="12.2" text-anchor="start" textLength="51.0" lengthAdjust="spacingAndGlyphs" >融资融券</text>
<text x="988.0" y="18.0" fill="#8c8c8c" font-size="12.2" text-anchor="start" textLength="54.0" lengthAdjust="spacingAndGlyphs" >设置均线</text>
<path d="M1044.6,10.2 L1050.6,10.2 L1047.6,13.3 Z" fill="#9a9a9a"/>
<path d="M7.0,27.900000000000002 L10.4,30.6 L8.3,31.400000000000002 L8.3,33.800000000000004 L10.4,34.6 L7.0,37.300000000000004 L3.6,34.6 L5.7,33.800000000000004 L5.7,31.400000000000002 L3.6,30.6 Z" fill="#c8c8c8"/>
<path d="M28.0,27.900000000000002 L31.4,30.6 L29.3,31.400000000000002 L29.3,33.800000000000004 L31.4,34.6 L28.0,37.300000000000004 L24.6,34.6 L26.7,33.800000000000004 L26.7,31.400000000000002 L24.6,30.6 Z" fill="#c8c8c8"/>
<path d="M63.5,27.900000000000002 L66.9,30.6 L64.8,31.400000000000002 L64.8,33.800000000000004 L66.9,34.6 L63.5,37.300000000000004 L60.1,34.6 L62.2,33.800000000000004 L62.2,31.400000000000002 L60.1,30.6 Z" fill="#c8c8c8"/>
<path d="M134.0,27.900000000000002 L137.4,30.6 L135.3,31.400000000000002 L135.3,33.800000000000004 L137.4,34.6 L134.0,37.300000000000004 L130.6,34.6 L132.7,33.800000000000004 L132.7,31.400000000000002 L130.6,30.6 Z" fill="#c8c8c8"/>
<path d="M169.0,27.900000000000002 L172.4,30.6 L170.3,31.400000000000002 L170.3,33.800000000000004 L172.4,34.6 L169.0,37.300000000000004 L165.6,34.6 L167.7,33.800000000000004 L167.7,31.400000000000002 L165.6,30.6 Z" fill="#c8c8c8"/>
<path d="M176.0,27.900000000000002 L179.4,30.6 L177.3,31.400000000000002 L177.3,33.800000000000004 L179.4,34.6 L176.0,37.300000000000004 L172.6,34.6 L174.7,33.800000000000004 L174.7,31.400000000000002 L172.6,30.6 Z" fill="#c8c8c8"/>
<path d="M197.0,27.900000000000002 L200.4,30.6 L198.3,31.400000000000002 L198.3,33.800000000000004 L200.4,34.6 L197.0,37.300000000000004 L193.6,34.6 L195.7,33.800000000000004 L195.7,31.400000000000002 L193.6,30.6 Z" fill="#c8c8c8"/>
<path d="M295.5,27.900000000000002 L298.9,30.6 L296.8,31.400000000000002 L296.8,33.800000000000004 L298.9,34.6 L295.5,37.300000000000004 L292.1,34.6 L294.2,33.800000000000004 L294.2,31.400000000000002 L292.1,30.6 Z" fill="#c8c8c8"/>
<path d="M443.5,27.900000000000002 L446.9,30.6 L444.8,31.400000000000002 L444.8,33.800000000000004 L446.9,34.6 L443.5,37.300000000000004 L440.1,34.6 L442.2,33.800000000000004 L442.2,31.400000000000002 L440.1,30.6 Z" fill="#c8c8c8"/>
<path d="M42.50,27.60 L43.76,29.55 L46.04,29.06 L45.55,31.34 L47.50,32.60 L45.55,33.86 L46.04,36.14 L43.76,35.65 L42.50,37.60 L41.24,35.65 L38.96,36.14 L39.45,33.86 L37.50,32.60 L39.45,31.34 L38.96,29.06 L41.24,29.55 Z" fill="#c8c8c8"/>
<path d="M211.00,27.60 L212.26,29.55 L214.54,29.06 L214.05,31.34 L216.00,32.60 L214.05,33.86 L214.54,36.14 L212.26,35.65 L211.00,37.60 L209.74,35.65 L207.46,36.14 L207.95,33.86 L206.00,32.60 L207.95,31.34 L207.46,29.06 L209.74,29.55 Z" fill="#c8c8c8"/>
<path d="M288.50,27.60 L289.76,29.55 L292.04,29.06 L291.55,31.34 L293.50,32.60 L291.55,33.86 L292.04,36.14 L289.76,35.65 L288.50,37.60 L287.24,35.65 L284.96,36.14 L285.45,33.86 L283.50,32.60 L285.45,31.34 L284.96,29.06 L287.24,29.55 Z" fill="#c8c8c8"/>
<path d="M359.00,27.60 L360.26,29.55 L362.54,29.06 L362.05,31.34 L364.00,32.60 L362.05,33.86 L362.54,36.14 L360.26,35.65 L359.00,37.60 L357.74,35.65 L355.46,36.14 L355.95,33.86 L354.00,32.60 L355.95,31.34 L355.46,29.06 L357.74,29.55 Z" fill="#c8c8c8"/>
<path d="M401.50,27.60 L402.76,29.55 L405.04,29.06 L404.55,31.34 L406.50,32.60 L404.55,33.86 L405.04,36.14 L402.76,35.65 L401.50,37.60 L400.24,35.65 L397.96,36.14 L398.45,33.86 L396.50,32.60 L398.45,31.34 L397.96,29.06 L400.24,29.55 Z" fill="#c8c8c8"/>
<path d="M605.50,27.60 L606.76,29.55 L609.04,29.06 L608.55,31.34 L610.50,32.60 L608.55,33.86 L609.04,36.14 L606.76,35.65 L605.50,37.60 L604.24,35.65 L601.96,36.14 L602.45,33.86 L600.50,32.60 L602.45,31.34 L601.96,29.06 L604.24,29.55 Z" fill="#c8c8c8"/>
<path d="M676.00,27.60 L677.26,29.55 L679.54,29.06 L679.05,31.34 L681.00,32.60 L679.05,33.86 L679.54,36.14 L677.26,35.65 L676.00,37.60 L674.74,35.65 L672.46,36.14 L672.95,33.86 L671.00,32.60 L672.95,31.34 L672.46,29.06 L674.74,29.55 Z" fill="#c8c8c8"/>
<path d="M725.00,27.60 L726.26,29.55 L728.54,29.06 L728.05,31.34 L730.00,32.60 L728.05,33.86 L728.54,36.14 L726.26,35.65 L725.00,37.60 L723.74,35.65 L721.46,36.14 L721.95,33.86 L720.00,32.60 L721.95,31.34 L721.46,29.06 L723.74,29.55 Z" fill="#c8c8c8"/>
<path d="M746.50,27.60 L747.76,29.55 L750.04,29.06 L749.55,31.34 L751.50,32.60 L749.55,33.86 L750.04,36.14 L747.76,35.65 L746.50,37.60 L745.24,35.65 L742.96,36.14 L743.45,33.86 L741.50,32.60 L743.45,31.34 L742.96,29.06 L745.24,29.55 Z" fill="#c8c8c8"/>
<path d="M809.50,27.60 L810.76,29.55 L813.04,29.06 L812.55,31.34 L814.50,32.60 L812.55,33.86 L813.04,36.14 L810.76,35.65 L809.50,37.60 L808.24,35.65 L805.96,36.14 L806.45,33.86 L804.50,32.60 L806.45,31.34 L805.96,29.06 L808.24,29.55 Z" fill="#c8c8c8"/>
<path d="M971.50,27.60 L972.76,29.55 L975.04,29.06 L974.55,31.34 L976.50,32.60 L974.55,33.86 L975.04,36.14 L972.76,35.65 L971.50,37.60 L970.24,35.65 L967.96,36.14 L968.45,33.86 L966.50,32.60 L968.45,31.34 L967.96,29.06 L970.24,29.55 Z" fill="#c8c8c8"/>
<path d="M1035.00,27.60 L1036.26,29.55 L1038.54,29.06 L1038.05,31.34 L1040.00,32.60 L1038.05,33.86 L1038.54,36.14 L1036.26,35.65 L1035.00,37.60 L1033.74,35.65 L1031.46,36.14 L1031.95,33.86 L1030.00,32.60 L1031.95,31.34 L1031.46,29.06 L1033.74,29.55 Z" fill="#c8c8c8"/>
<rect x="0" y="393" width="1121" height="1" fill="#3a3a3a"/>
<rect x="0" y="418" width="1057" height="1" fill="url(#dots)"/>
<rect x="0" y="455" width="1057" height="1" fill="url(#dots)"/>
<rect x="0" y="491" width="1057" height="1" fill="url(#dots)"/>
<rect x="1059.5" y="418" width="3.6" height="1" fill="#3a3a3a"/>
<rect x="1059.5" y="455" width="3.6" height="1" fill="#3a3a3a"/>
<rect x="0" y="493" width="1121" height="1" fill="#2e2e2e"/>
<rect x="1060" y="491" width="61" height="1" fill="#2e2e2e"/>
<rect x="1120" y="393" width="1" height="100" fill="#2e2e2e"/>
<rect x="35.3" y="494" width="1" height="3" fill="#3a3a3a"/>
<rect x="190.1" y="494" width="1" height="3" fill="#3a3a3a"/>
<rect x="309.1" y="494" width="1" height="3" fill="#3a3a3a"/>
<rect x="449.9" y="494" width="1" height="3" fill="#3a3a3a"/>
<rect x="611.8" y="494" width="1" height="3" fill="#3a3a3a"/>
<rect x="752.6" y="494" width="1" height="3" fill="#3a3a3a"/>
<rect x="851.8" y="494" width="1" height="3" fill="#3a3a3a"/>
<rect x="1006.2" y="494" width="1" height="3" fill="#3a3a3a"/>
<text x="1116.4" y="425.5" fill="#8c8c8c" font-size="13.5" text-anchor="end" >2.57</text>
<text x="1116.4" y="462.1" fill="#8c8c8c" font-size="13.5" text-anchor="end" >0.61</text>
<text x="1116.4" y="490.0" fill="#8c8c8c" font-size="13.5" text-anchor="end" >-1.31</text>
<rect x="-0.6" y="465.8" width="1.2" height="2.0" fill="#d83c3c"/>
<rect x="6.5" y="465.8" width="1.2" height="2.0" fill="#d83c3c"/>
<rect x="13.5" y="466.8" width="1.2" height="1.0" fill="#d83c3c"/>
<rect x="27.6" y="465.8" width="1.2" height="2.0" fill="#d83c3c"/>
<rect x="34.6" y="464.8" width="1.2" height="3.0" fill="#d83c3c"/>
<rect x="41.7" y="464.8" width="1.2" height="3.0" fill="#d83c3c"/>
<rect x="48.7" y="466.8" width="1.2" height="1.0" fill="#d83c3c"/>
<rect x="55.8" y="467.8" width="1.2" height="1.0" fill="#18c8cc"/>
<rect x="69.8" y="466.8" width="1.2" height="1.0" fill="#d83c3c"/>
<rect x="76.9" y="465.8" width="1.2" height="2.0" fill="#d83c3c"/>
<rect x="83.9" y="465.8" width="1.2" height="2.0" fill="#d83c3c"/>
<rect x="91.0" y="464.8" width="1.2" height="3.0" fill="#d83c3c"/>
<rect x="98.0" y="464.8" width="1.2" height="3.0" fill="#d83c3c"/>
<rect x="105.0" y="465.8" width="1.2" height="2.0" fill="#d83c3c"/>
<rect x="112.1" y="466.8" width="1.2" height="1.0" fill="#d83c3c"/>
<rect x="119.1" y="466.8" width="1.2" height="1.0" fill="#d83c3c"/>
<rect x="133.2" y="467.8" width="1.2" height="1.0" fill="#18c8cc"/>
<rect x="140.2" y="464.8" width="1.2" height="3.0" fill="#d83c3c"/>
<rect x="147.3" y="464.3" width="1.2" height="3.5" fill="#d83c3c"/>
<rect x="154.3" y="462.8" width="1.2" height="5.0" fill="#d83c3c"/>
<rect x="161.3" y="463.8" width="1.2" height="4.0" fill="#d83c3c"/>
<rect x="168.4" y="466.8" width="1.2" height="1.0" fill="#d83c3c"/>
<rect x="175.4" y="465.8" width="1.2" height="2.0" fill="#d83c3c"/>
<rect x="182.5" y="466.8" width="1.2" height="1.0" fill="#d83c3c"/>
<rect x="189.5" y="465.8" width="1.2" height="2.0" fill="#d83c3c"/>
<rect x="196.6" y="466.8" width="1.2" height="1.0" fill="#d83c3c"/>
<rect x="203.6" y="463.8" width="1.2" height="4.0" fill="#d83c3c"/>
<rect x="210.6" y="464.5" width="1.2" height="3.3" fill="#d83c3c"/>
<rect x="217.7" y="463.9" width="1.2" height="3.9" fill="#d83c3c"/>
<rect x="224.7" y="465.7" width="1.2" height="2.1" fill="#d83c3c"/>
<rect x="231.8" y="467.8" width="1.2" height="1.1" fill="#18c8cc"/>
<rect x="238.8" y="467.8" width="1.2" height="3.4" fill="#18c8cc"/>
<rect x="245.8" y="467.8" width="1.2" height="1.8" fill="#18c8cc"/>
<rect x="252.9" y="463.6" width="1.2" height="4.2" fill="#d83c3c"/>
<rect x="259.9" y="462.5" width="1.2" height="5.3" fill="#d83c3c"/>
<rect x="266.9" y="460.4" width="1.2" height="7.4" fill="#d83c3c"/>
<rect x="274.0" y="457.9" width="1.2" height="9.9" fill="#d83c3c"/>
<rect x="281.0" y="456.4" width="1.2" height="11.4" fill="#d83c3c"/>
<rect x="288.1" y="457.3" width="1.2" height="10.5" fill="#d83c3c"/>
<rect x="295.1" y="461.4" width="1.2" height="6.4" fill="#d83c3c"/>
<rect x="302.1" y="463.4" width="1.2" height="4.4" fill="#d83c3c"/>
<rect x="309.2" y="466.1" width="1.2" height="1.7" fill="#d83c3c"/>
<rect x="316.2" y="467.8" width="1.2" height="1.6" fill="#18c8cc"/>
<rect x="323.3" y="467.8" width="1.2" height="4.0" fill="#18c8cc"/>
<rect x="330.3" y="467.8" width="1.2" height="5.1" fill="#18c8cc"/>
<rect x="337.3" y="467.8" width="1.2" height="5.2" fill="#18c8cc"/>
<rect x="344.4" y="467.8" width="1.2" height="6.0" fill="#18c8cc"/>
<rect x="351.4" y="467.8" width="1.2" height="7.8" fill="#18c8cc"/>
<rect x="358.5" y="467.8" width="1.2" height="10.2" fill="#18c8cc"/>
<rect x="365.5" y="467.8" width="1.2" height="11.5" fill="#18c8cc"/>
<rect x="372.5" y="467.8" width="1.2" height="12.2" fill="#18c8cc"/>
<rect x="379.6" y="467.8" width="1.2" height="10.9" fill="#18c8cc"/>
<rect x="386.6" y="467.8" width="1.2" height="9.4" fill="#18c8cc"/>
<rect x="393.7" y="467.8" width="1.2" height="9.9" fill="#18c8cc"/>
<rect x="400.7" y="467.8" width="1.2" height="10.1" fill="#18c8cc"/>
<rect x="407.7" y="467.8" width="1.2" height="11.6" fill="#18c8cc"/>
<rect x="414.8" y="467.8" width="1.2" height="12.0" fill="#18c8cc"/>
<rect x="421.8" y="467.8" width="1.2" height="11.3" fill="#18c8cc"/>
<rect x="428.9" y="467.8" width="1.2" height="10.4" fill="#18c8cc"/>
<rect x="435.9" y="467.8" width="1.2" height="8.8" fill="#18c8cc"/>
<rect x="442.9" y="467.8" width="1.2" height="6.6" fill="#18c8cc"/>
<rect x="450.0" y="467.8" width="1.2" height="4.4" fill="#18c8cc"/>
<rect x="457.0" y="467.8" width="1.2" height="3.4" fill="#18c8cc"/>
<rect x="464.1" y="467.8" width="1.2" height="2.5" fill="#18c8cc"/>
<rect x="471.1" y="467.8" width="1.2" height="2.2" fill="#18c8cc"/>
<rect x="478.1" y="467.8" width="1.2" height="1.5" fill="#18c8cc"/>
<rect x="485.2" y="467.4" width="1.2" height="1.0" fill="#d83c3c"/>
<rect x="492.2" y="466.2" width="1.2" height="1.6" fill="#d83c3c"/>
<rect x="499.3" y="465.2" width="1.2" height="2.6" fill="#d83c3c"/>
<rect x="506.3" y="465.4" width="1.2" height="2.4" fill="#d83c3c"/>
<rect x="513.3" y="465.7" width="1.2" height="2.1" fill="#d83c3c"/>
<rect x="520.4" y="466.9" width="1.2" height="1.0" fill="#d83c3c"/>
<rect x="527.4" y="467.8" width="1.2" height="1.0" fill="#18c8cc"/>
<rect x="534.5" y="467.8" width="1.2" height="2.0" fill="#18c8cc"/>
<rect x="541.5" y="467.8" width="1.2" height="1.5" fill="#18c8cc"/>
<rect x="548.5" y="467.8" width="1.2" height="1.0" fill="#18c8cc"/>
<rect x="555.6" y="466.9" width="1.2" height="1.0" fill="#d83c3c"/>
<rect x="562.6" y="461.2" width="1.2" height="6.6" fill="#d83c3c"/>
<rect x="569.7" y="457.0" width="1.2" height="10.8" fill="#d83c3c"/>
<rect x="576.7" y="453.7" width="1.2" height="14.1" fill="#d83c3c"/>
<rect x="583.8" y="452.1" width="1.2" height="15.7" fill="#d83c3c"/>
<rect x="590.8" y="454.6" width="1.2" height="13.2" fill="#d83c3c"/>
<rect x="597.8" y="456.6" width="1.2" height="11.2" fill="#d83c3c"/>
<rect x="604.9" y="458.9" width="1.2" height="8.9" fill="#d83c3c"/>
<rect x="611.9" y="459.3" width="1.2" height="8.5" fill="#d83c3c"/>
<rect x="618.9" y="459.1" width="1.2" height="8.7" fill="#d83c3c"/>
<rect x="626.0" y="458.3" width="1.2" height="9.5" fill="#d83c3c"/>
<rect x="633.0" y="459.1" width="1.2" height="8.7" fill="#d83c3c"/>
<rect x="640.1" y="460.2" width="1.2" height="7.6" fill="#d83c3c"/>
<rect x="647.1" y="461.8" width="1.2" height="6.0" fill="#d83c3c"/>
<rect x="654.1" y="465.1" width="1.2" height="2.7" fill="#d83c3c"/>
<rect x="661.2" y="464.6" width="1.2" height="3.2" fill="#d83c3c"/>
<rect x="668.2" y="463.2" width="1.2" height="4.6" fill="#d83c3c"/>
<rect x="675.3" y="461.9" width="1.2" height="5.9" fill="#d83c3c"/>
<rect x="682.3" y="462.5" width="1.2" height="5.3" fill="#d83c3c"/>
<rect x="689.3" y="463.8" width="1.2" height="4.0" fill="#d83c3c"/>
<rect x="696.4" y="462.5" width="1.2" height="5.3" fill="#d83c3c"/>
<rect x="703.4" y="465.3" width="1.2" height="2.5" fill="#d83c3c"/>
<rect x="710.5" y="466.3" width="1.2" height="1.5" fill="#d83c3c"/>
<rect x="717.5" y="467.0" width="1.2" height="1.0" fill="#d83c3c"/>
<rect x="724.5" y="467.8" width="1.2" height="1.1" fill="#18c8cc"/>
<rect x="731.6" y="467.8" width="1.2" height="3.0" fill="#18c8cc"/>
<rect x="738.6" y="467.8" width="1.2" height="7.6" fill="#18c8cc"/>
<rect x="745.7" y="467.8" width="1.2" height="9.1" fill="#18c8cc"/>
<rect x="752.7" y="467.8" width="1.2" height="10.6" fill="#18c8cc"/>
<rect x="759.8" y="467.8" width="1.2" height="5.7" fill="#18c8cc"/>
<rect x="766.8" y="466.9" width="1.2" height="1.0" fill="#d83c3c"/>
<rect x="773.8" y="462.8" width="1.2" height="5.0" fill="#d83c3c"/>
<rect x="780.9" y="454.6" width="1.2" height="13.2" fill="#d83c3c"/>
<rect x="787.9" y="450.0" width="1.2" height="17.8" fill="#d83c3c"/>
<rect x="794.9" y="444.8" width="1.2" height="23.0" fill="#d83c3c"/>
<rect x="802.0" y="442.9" width="1.2" height="24.9" fill="#d83c3c"/>
<rect x="809.0" y="441.1" width="1.2" height="26.7" fill="#d83c3c"/>
<rect x="816.1" y="449.3" width="1.2" height="18.5" fill="#d83c3c"/>
<rect x="823.1" y="455.5" width="1.2" height="12.3" fill="#d83c3c"/>
<rect x="830.1" y="461.7" width="1.2" height="6.1" fill="#d83c3c"/>
<rect x="837.2" y="464.7" width="1.2" height="3.1" fill="#d83c3c"/>
<rect x="844.2" y="467.8" width="1.2" height="1.0" fill="#18c8cc"/>
<rect x="851.3" y="467.8" width="1.2" height="2.4" fill="#18c8cc"/>
<rect x="858.3" y="464.7" width="1.2" height="3.1" fill="#d83c3c"/>
<rect x="865.3" y="465.6" width="1.2" height="2.2" fill="#d83c3c"/>
<rect x="872.4" y="467.8" width="1.2" height="2.3" fill="#18c8cc"/>
<rect x="879.4" y="467.8" width="1.2" height="6.6" fill="#18c8cc"/>
<rect x="886.5" y="467.8" width="1.2" height="13.7" fill="#18c8cc"/>
<rect x="893.5" y="467.8" width="1.2" height="15.0" fill="#18c8cc"/>
<rect x="900.5" y="467.8" width="1.2" height="14.8" fill="#18c8cc"/>
<rect x="907.6" y="467.8" width="1.2" height="15.8" fill="#18c8cc"/>
<rect x="914.6" y="467.8" width="1.2" height="19.0" fill="#18c8cc"/>
<rect x="921.7" y="467.8" width="1.2" height="20.8" fill="#18c8cc"/>
<rect x="928.7" y="467.8" width="1.2" height="24.3" fill="#18c8cc"/>
<rect x="935.8" y="467.8" width="1.2" height="21.7" fill="#18c8cc"/>
<rect x="942.8" y="467.8" width="1.2" height="20.6" fill="#18c8cc"/>
<rect x="949.8" y="467.8" width="1.2" height="18.8" fill="#18c8cc"/>
<rect x="956.9" y="467.8" width="1.2" height="20.9" fill="#18c8cc"/>
<rect x="963.9" y="467.8" width="1.2" height="19.4" fill="#18c8cc"/>
<rect x="970.9" y="467.8" width="1.2" height="13.4" fill="#18c8cc"/>
<rect x="978.0" y="467.8" width="1.2" height="10.2" fill="#18c8cc"/>
<rect x="985.0" y="467.8" width="1.2" height="6.6" fill="#18c8cc"/>
<rect x="992.1" y="467.8" width="1.2" height="1.1" fill="#18c8cc"/>
<rect x="999.1" y="467.6" width="1.2" height="1.0" fill="#d83c3c"/>
<rect x="1006.1" y="463.6" width="1.2" height="4.2" fill="#d83c3c"/>
<rect x="1013.2" y="458.6" width="1.2" height="9.2" fill="#d83c3c"/>
<rect x="1020.2" y="452.4" width="1.2" height="15.4" fill="#d83c3c"/>
<rect x="1027.3" y="442.0" width="1.2" height="25.8" fill="#d83c3c"/>
<rect x="1034.3" y="428.9" width="1.2" height="38.9" fill="#d83c3c"/>
<rect x="1041.4" y="421.6" width="1.2" height="46.2" fill="#d83c3c"/>
<rect x="1048.4" y="419.7" width="1.2" height="48.1" fill="#d83c3c"/>
<polyline points="0.0,461.7 7.1,461.6 14.1,461.5 21.2,461.6 28.2,461.4 35.2,461.2 42.3,461.0 49.3,461.0 56.4,461.2 63.4,461.3 70.4,461.2 77.5,461.1 84.5,461.0 91.5,460.8 98.6,460.7 105.6,460.6 112.7,460.7 119.7,460.7 126.8,460.8 133.8,461.0 140.8,460.8 147.9,460.4 154.9,459.9 161.9,459.5 169.0,459.4 176.0,459.3 183.1,459.3 190.1,459.2 197.2,459.2 204.2,458.8 211.2,458.4 218.3,458.0 225.3,457.7 232.3,457.8 239.4,458.3 246.4,458.5 253.5,457.9 260.5,457.3 267.5,456.4 274.6,455.1 281.6,453.7 288.7,452.4 295.7,451.6 302.8,451.0 309.8,450.8 316.8,451.0 323.9,451.5 330.9,452.2 337.9,452.8 345.0,453.5 352.0,454.5 359.1,455.8 366.1,457.2 373.1,458.8 380.2,460.1 387.2,461.3 394.3,462.5 401.3,463.8 408.3,465.3 415.4,466.8 422.4,468.2 429.5,469.5 436.5,470.6 443.5,471.4 450.6,471.9 457.6,472.4 464.7,472.7 471.7,473.0 478.8,473.1 485.8,473.1 492.8,472.9 499.9,472.6 506.9,472.3 513.9,472.0 521.0,471.9 528.0,472.0 535.1,472.2 542.1,472.4 549.1,472.5 556.2,472.4 563.2,471.6 570.3,470.2 577.3,468.5 584.4,466.5 591.4,464.9 598.4,463.5 605.5,462.3 612.5,461.3 619.5,460.2 626.6,459.0 633.6,457.9 640.7,457.0 647.7,456.2 654.8,455.9 661.8,455.5 668.8,454.9 675.9,454.2 682.9,453.5 689.9,453.0 697.0,452.3 704.0,452.0 711.1,451.8 718.1,451.7 725.1,451.9 732.2,452.2 739.2,453.2 746.3,454.3 753.3,455.7 760.4,456.4 767.4,456.3 774.4,455.6 781.5,454.0 788.5,451.8 795.5,448.9 802.6,445.8 809.6,442.4 816.7,440.1 823.7,438.6 830.8,437.8 837.8,437.4 844.8,437.5 851.9,437.9 858.9,437.5 865.9,437.2 873.0,437.5 880.0,438.3 887.1,440.0 894.1,441.9 901.1,443.8 908.2,445.7 915.2,448.1 922.3,450.7 929.3,453.8 936.4,456.5 943.4,459.0 950.4,461.4 957.5,464.0 964.5,466.4 971.5,468.1 978.6,469.4 985.6,470.2 992.7,470.3 999.7,470.3 1006.8,469.8 1013.8,468.6 1020.8,466.7 1027.9,463.5 1034.9,458.6 1042.0,452.9 1049.0,446.8" fill="none" stroke="#e6e600" stroke-width="1.1" shape-rendering="crispEdges" />
<polyline points="0.0,461.2 7.1,461.1 14.1,461.4 21.2,461.7 28.2,461.0 35.2,460.2 42.3,460.1 49.3,461.0 56.4,462.0 63.4,461.6 70.4,461.1 77.5,460.6 84.5,460.7 91.5,460.1 98.6,460.1 105.6,460.4 112.7,461.0 119.7,460.9 126.8,461.1 133.8,461.8 140.8,459.7 147.9,458.8 154.9,457.9 161.9,458.0 169.0,459.1 176.0,458.9 183.1,459.2 190.1,458.7 197.2,459.2 204.2,457.5 211.2,456.8 218.3,456.0 225.3,456.6 232.3,458.4 239.4,460.0 246.4,459.4 253.5,455.8 260.5,454.6 267.5,452.6 274.6,450.2 281.6,448.0 288.7,447.1 295.7,448.4 302.8,448.8 309.8,450.0 316.8,451.8 323.9,453.5 330.9,454.7 337.9,455.4 345.0,456.5 352.0,458.4 359.1,460.9 366.1,463.0 373.1,464.8 380.2,465.6 387.2,466.0 394.3,467.5 401.3,468.9 408.3,471.1 415.4,472.7 422.4,473.8 429.5,474.7 436.5,475.0 443.5,474.7 450.6,474.1 457.6,474.1 464.7,473.9 471.7,474.1 478.8,473.9 485.8,472.9 492.8,472.1 499.9,471.3 506.9,471.1 513.9,470.9 521.0,471.4 528.0,472.4 535.1,473.2 542.1,473.2 549.1,472.9 556.2,472.0 563.2,468.3 570.3,464.8 577.3,461.4 584.4,458.6 591.4,458.3 598.4,457.8 605.5,457.9 612.5,457.0 619.5,455.9 626.6,454.2 633.6,453.6 640.7,453.2 647.7,453.2 654.8,454.5 661.8,453.8 668.8,452.6 675.9,451.2 682.9,450.9 689.9,451.0 697.0,449.7 704.0,450.8 711.1,451.1 718.1,451.3 725.1,452.4 732.2,453.7 739.2,457.0 746.3,458.9 753.3,460.9 760.4,459.2 767.4,455.8 774.4,453.1 781.5,447.4 788.5,442.9 795.5,437.4 802.6,433.3 809.6,429.1 816.7,430.9 823.7,432.5 830.8,434.8 837.8,435.9 844.8,438.0 851.9,439.1 858.9,435.9 865.9,436.1 873.0,438.6 880.0,441.6 887.1,446.9 894.1,449.4 901.1,451.2 908.2,453.6 915.2,457.6 922.3,461.1 929.3,465.9 936.4,467.3 943.4,469.4 950.4,470.8 957.5,474.5 964.5,476.1 971.5,474.8 978.6,474.5 985.6,473.5 992.7,470.9 999.7,470.2 1006.8,467.7 1013.8,464.0 1020.8,459.0 1027.9,450.6 1034.9,439.2 1042.0,429.7 1049.0,422.8" fill="none" stroke="#d4d4d4" stroke-width="1.1" shape-rendering="crispEdges" />
<rect x="-4" y="398.9" width="17" height="15" rx="2" fill="none" stroke="#555" stroke-width="1"/>
<text x="5.2" y="410.5" fill="#e8e8e8" font-size="12" text-anchor="middle" >?</text>
<text x="22.1" y="411.0" fill="#8c8c8c" font-size="13.5" text-anchor="start" textLength="92.6" lengthAdjust="spacingAndGlyphs" >MACD(12,26,9)</text>
<text x="121.0" y="411.0" fill="#f0f0f0" font-size="13.5" text-anchor="start" textLength="55.7" lengthAdjust="spacingAndGlyphs" >DIF:0.936</text>
<path d="M184.2,414 V400.0 M180.2,407.0 L184.2,399.5 L188.2,407.0" stroke="#f0f0f0" stroke-width="1.2" fill="none"/>
<text x="195.9" y="411.0" fill="#e6e600" font-size="13.5" text-anchor="start" textLength="61.5" lengthAdjust="spacingAndGlyphs" >DEA:0.667</text>
<path d="M265.0,414 V400.0 M261.0,407.0 L265.0,399.5 L269.0,407.0" stroke="#e6e600" stroke-width="1.2" fill="none"/>
<text x="276.3" y="411.0" fill="#e600e6" font-size="13.5" text-anchor="start" textLength="76.2" lengthAdjust="spacingAndGlyphs" >MACD:0.538</text>
<path d="M360.1,414 V400.0 M356.1,407.0 L360.1,399.5 L364.1,407.0" stroke="#e600e6" stroke-width="1.2" fill="none"/>
<text x="900.4" y="410.6" fill="#8c8c8c" font-size="12.2" text-anchor="start" textLength="37.4" lengthAdjust="spacingAndGlyphs" >改参数</text>
<text x="947.8" y="410.6" fill="#8c8c8c" font-size="12.2" text-anchor="start" textLength="38.1" lengthAdjust="spacingAndGlyphs" >加指标</text>
<text x="995.2" y="410.6" fill="#8c8c8c" font-size="12.2" text-anchor="start" textLength="38.1" lengthAdjust="spacingAndGlyphs" >换指标</text>
<rect x="1042.6" y="398.9" width="16" height="15" rx="2" fill="none" stroke="#555" stroke-width="1"/>
<path d="M1046.5,402.5 L1054.5,410.5 M1054.5,402.5 L1046.5,410.5" stroke="#9a9a9a" stroke-width="1"/>
<defs><linearGradient id="sb" x1="0" y1="0" x2="0" y2="500" gradientUnits="userSpaceOnUse"><stop offset="0" stop-color="#0d0d0d"/><stop offset="0.34" stop-color="#0f0f0f"/><stop offset="0.6" stop-color="#363636"/><stop offset="0.7" stop-color="#3a3a3a"/><stop offset="0.78" stop-color="#303030"/><stop offset="1" stop-color="#202020"/></linearGradient></defs>
<rect x="1122" y="0" width="9" height="500" fill="url(#sb)"/>
<rect x="1122" y="0" width="1" height="500" fill="#333"/>
<rect x="1130" y="0" width="1" height="500" fill="#333"/>
<rect x="1131" y="0" width="4" height="500" fill="#0c0c0c"/>
<rect x="1131" y="48" width="4" height="1" fill="#333"/>
<rect x="1131" y="73" width="4" height="1" fill="#333"/>
<rect x="1131" y="97" width="4" height="1" fill="#333"/>
<rect x="1131" y="122" width="4" height="1" fill="#333"/>
<rect x="1131" y="278" width="4" height="1" fill="#333"/>
<rect x="1123.5" y="158" width="1.4" height="1.4" fill="#8a8a8a"/>
<rect x="1125.8" y="158" width="1.4" height="1.4" fill="#8a8a8a"/>
<rect x="1128.1" y="158" width="1.4" height="1.4" fill="#8a8a8a"/>
<rect x="1123.5" y="160.5" width="1.4" height="1.4" fill="#8a8a8a"/>
<rect x="1125.8" y="160.5" width="1.4" height="1.4" fill="#8a8a8a"/>
<rect x="1128.1" y="160.5" width="1.4" height="1.4" fill="#8a8a8a"/>
<rect x="1123.5" y="163" width="1.4" height="1.4" fill="#8a8a8a"/>
<rect x="1125.8" y="163" width="1.4" height="1.4" fill="#8a8a8a"/>
<rect x="1128.1" y="163" width="1.4" height="1.4" fill="#8a8a8a"/>
<rect x="1123.5" y="165.5" width="1.4" height="1.4" fill="#8a8a8a"/>
<rect x="1125.8" y="165.5" width="1.4" height="1.4" fill="#8a8a8a"/>
<rect x="1128.1" y="165.5" width="1.4" height="1.4" fill="#8a8a8a"/>
<path d="M1124.2,345 L1128.2,352.8 L1124.2,361 Z" fill="#d8d8d8"/>
<rect x="-4" y="496.5" width="16" height="8" rx="2" fill="none" stroke="#555"/>
<rect x="1106.5" y="496.5" width="14" height="8" rx="2" fill="none" stroke="#555"/>
<rect x="1109" y="498" width="1.3" height="3" fill="#bbb"/><rect x="1113" y="498" width="1.3" height="3" fill="#bbb"/>
<rect x="3.8" y="498.5" width="1.3" height="3" fill="#bbb"/><rect x="8" y="498.5" width="1.3" height="3" fill="#bbb"/>
</svg></body></html>
